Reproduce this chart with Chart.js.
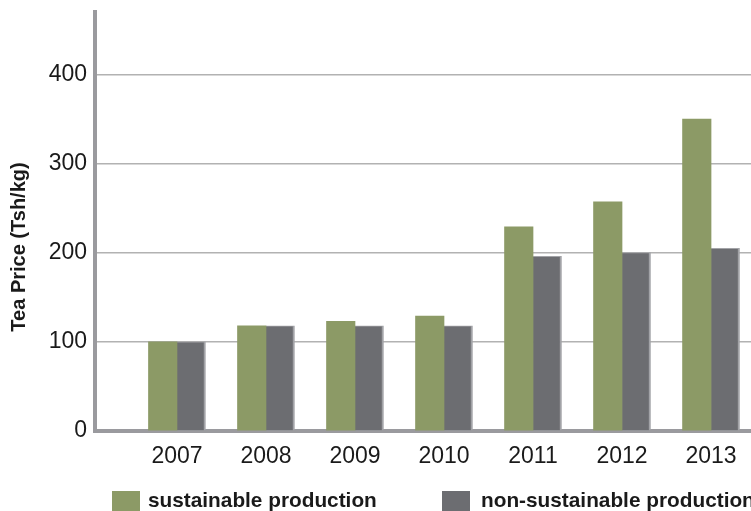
<!DOCTYPE html>
<html>
<head>
<meta charset="utf-8">
<script src="https://cdn.jsdelivr.net/npm/chart.js@4"></script>
<style>
  html, body { margin: 0; padding: 0; background: #ffffff; }
  #wrap { width: 751px; height: 511px; position: relative; }
</style>
</head>
<body>
<div id="wrap"><canvas id="chart"></canvas></div>
<script>
// values
const years = ['2007', '2008', '2009', '2010', '2011', '2012', '2013'];
const sustainable = [100, 118, 123, 129, 229, 257, 350];
const nonSustainable = [100, 118, 118, 118, 196, 200, 205];
const yTicks = [0, 100, 200, 300, 400];

const colors = {
  green: '#8c9a66',
  gray: '#6c6d71',
  grayEdge: '#a2a3a7',
  axis: '#9a9a9e',
  grid: '#b2b2b2',
  text: '#1a1a1a',
};

// bars sit on a numeric index axis so the plot can start left of the first group
const toPoints = (vals) => vals.map((v, i) => ({ x: i, y: v }));

// y title and legend are placed like in the original figure
const extras = {
  id: 'extras',
  afterDraw(chart) {
    const { ctx } = chart;
    ctx.save();
    ctx.fillStyle = colors.text;
    ctx.font = 'bold 20px "Liberation Sans", Arial, sans-serif';
    ctx.textAlign = 'center';
    ctx.textBaseline = 'middle';
    ctx.translate(19, 247);
    ctx.rotate(-Math.PI / 2);
    ctx.fillText('Tea Price (Tsh/kg)', 0, 0);
    ctx.restore();

    const boxX = [112, 442];
    const textX = [148, 481];
    chart.data.datasets.forEach((ds, i) => {
      ctx.save();
      ctx.fillStyle = ds.backgroundColor;
      ctx.fillRect(boxX[i], 491, 28, 22);
      ctx.fillStyle = colors.text;
      ctx.font = 'bold 20.8px "Liberation Sans", Arial, sans-serif';
      ctx.textAlign = 'left';
      ctx.textBaseline = 'alphabetic';
      ctx.fillText(ds.label, textX[i], 507);
      ctx.restore();
    });
  },
};

const ctx = document.getElementById('chart').getContext('2d');
new Chart(ctx, {
  type: 'bar',
  data: {
    datasets: [
      {
        label: 'sustainable production',
        data: toPoints(sustainable),
        backgroundColor: colors.green,
        borderWidth: 0,
        barThickness: 28.5,
      },
      {
        label: 'non-sustainable production',
        data: toPoints(nonSustainable),
        backgroundColor: colors.gray,
        borderColor: colors.grayEdge,
        borderWidth: { top: 1, right: 2, bottom: 0, left: 0 },
        borderSkipped: 'bottom',
        barThickness: 28.5,
      },
    ],
  },
  options: {
    responsive: true,
    maintainAspectRatio: false,
    animation: false,
    layout: { padding: { top: 12, right: 0, bottom: 0, left: 0 } },
    scales: {
      x: {
        type: 'linear',
        offset: false,
        min: -0.921,
        max: 6.449,
        afterFit: (s) => { s.height = 80; s.paddingLeft = 0; s.paddingRight = 0; },
        grid: { display: false, drawTicks: false },
        border: { color: colors.axis, width: 4 },
        ticks: {
          stepSize: 1,
          includeBounds: false,
          padding: 12,
          color: colors.text,
          font: { family: '"Liberation Sans", Arial, sans-serif', size: 23 },
          callback: (v) => (Number.isInteger(v) && years[v] !== undefined ? years[v] : ''),
        },
      },
      y: {
        min: 0,
        max: 470,
        afterFit: (s) => { s.width = 95; s.paddingTop = 0; s.paddingBottom = 0; },
        afterBuildTicks: (s) => { s.ticks = yTicks.map((v) => ({ value: v })); },
        grid: { color: colors.grid, lineWidth: 1.5, drawTicks: false },
        border: { color: colors.axis, width: 4 },
        ticks: {
          padding: 8,
          color: colors.text,
          font: { family: '"Liberation Sans", Arial, sans-serif', size: 23 },
        },
      },
    },
    plugins: {
      legend: { display: false },
      tooltip: { enabled: false },
    },
  },
  plugins: [extras],
});
</script>
</body>
</html>
